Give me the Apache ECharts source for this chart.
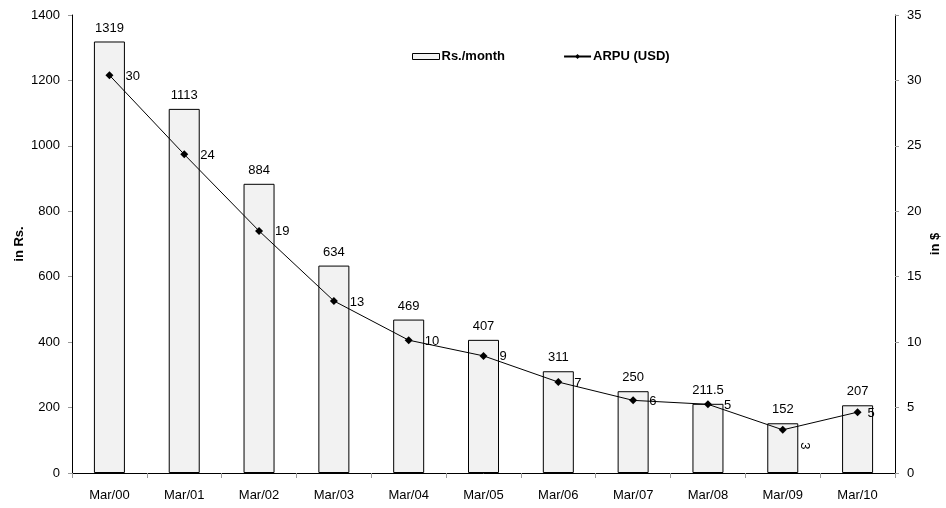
<!DOCTYPE html>
<html><head><meta charset="utf-8">
<script src="https://cdn.jsdelivr.net/npm/echarts@6/dist/echarts.min.js"></script>
<style>html,body{margin:0;padding:0;background:#fff}#c{width:946px;height:508px}</style>
</head><body><div id="c"></div>
<script>
var categories = ['Mar/00','Mar/01','Mar/02','Mar/03','Mar/04','Mar/05','Mar/06','Mar/07','Mar/08','Mar/09','Mar/10'];
var rsMonth = [1319, 1113, 884, 634, 469, 407, 311, 250, 211.5, 152, 207];
var arpuUsd = [30.4, 24.35, 18.5, 13.15, 10.15, 8.95, 6.95, 5.55, 5.25, 3.3, 4.65];
var leftTicks = [0, 1400, 200];
var rightTicks = [0, 35, 5];

var FONT = 'Liberation Sans, Arial, sans-serif';
var FS = 13;
var chart = echarts.init(document.getElementById('c'));
var lineData = arpuUsd.map(function (v, i) {
  if (i === 9) {
    return { value: v, label: { rotate: -90, position: [26, 20], align: 'center', verticalAlign: 'middle', offset: [0, 0] } };
  }
  if (i === 10) {
    return { value: v, label: { distance: 6 } };
  }
  return v;
});
function plain(v) { return String(v); }
chart.setOption({
  animation: false,
  textStyle: { fontFamily: FONT },
  grid: { left: 72, right: 51, top: 15, bottom: 35, outerBoundsMode: 'none', containLabel: false },
  legend: {
    top: 45, left: 407, itemGap: 58, itemWidth: 27, itemHeight: 6,
    textStyle: { fontFamily: FONT, fontSize: FS, fontWeight: 'bold', color: '#000', padding: [0, 0, 0, -3] },
    data: [
      { name: 'Rs./month', icon: 'rect', itemStyle: { borderWidth: 1 } },
      { name: 'ARPU (USD)' }
    ]
  },
  xAxis: {
    type: 'category', data: categories,
    axisLine: { lineStyle: { color: '#000', width: 1 } },
    axisTick: { show: true, length: 5, lineStyle: { color: '#999' } },
    axisLabel: { color: '#000', fontSize: FS, fontFamily: FONT, margin: 16 }
  },
  yAxis: [{
    type: 'value', min: leftTicks[0], max: leftTicks[1], interval: leftTicks[2],
    name: 'in Rs.', nameLocation: 'middle', nameGap: 46, nameRotate: 90, nameMoveOverlap: false,
    nameTextStyle: { fontWeight: 'bold', fontSize: FS, color: '#000', fontFamily: FONT },
    axisLine: { show: true, lineStyle: { color: '#000' } },
    axisTick: { show: true, length: 4, lineStyle: { color: '#999' } },
    axisLabel: { color: '#000', fontSize: FS, fontFamily: FONT, margin: 12, formatter: plain },
    splitLine: { show: false }
  }, {
    type: 'value', min: rightTicks[0], max: rightTicks[1], interval: rightTicks[2],
    name: 'in $', nameLocation: 'middle', nameGap: 34, nameRotate: 90, nameMoveOverlap: false,
    nameTextStyle: { fontWeight: 'bold', fontSize: FS, color: '#000', fontFamily: FONT },
    axisLine: { show: true, lineStyle: { color: '#000' } },
    axisTick: { show: true, length: 4, lineStyle: { color: '#999' } },
    axisLabel: { color: '#000', fontSize: FS, fontFamily: FONT, margin: 12, formatter: plain },
    splitLine: { show: false }
  }],
  series: [{
    name: 'Rs./month', type: 'bar', data: rsMonth, barWidth: 31,
    itemStyle: { color: '#f2f2f2', borderColor: '#000', borderWidth: 1 },
    label: { show: true, position: 'top', distance: 7, color: '#000', fontSize: FS, fontFamily: FONT }
  }, {
    name: 'ARPU (USD)', type: 'line', yAxisIndex: 1, data: lineData,
    symbol: 'diamond', symbolSize: 8,
    lineStyle: { color: '#000', width: 1 },
    itemStyle: { color: '#000' },
    label: {
      show: true, position: 'right', distance: 12, offset: [0, 1],
      color: '#000', fontSize: FS, fontFamily: FONT,
      formatter: function (p) { return Math.round(p.value); }
    }
  }]
});
</script></body></html>
